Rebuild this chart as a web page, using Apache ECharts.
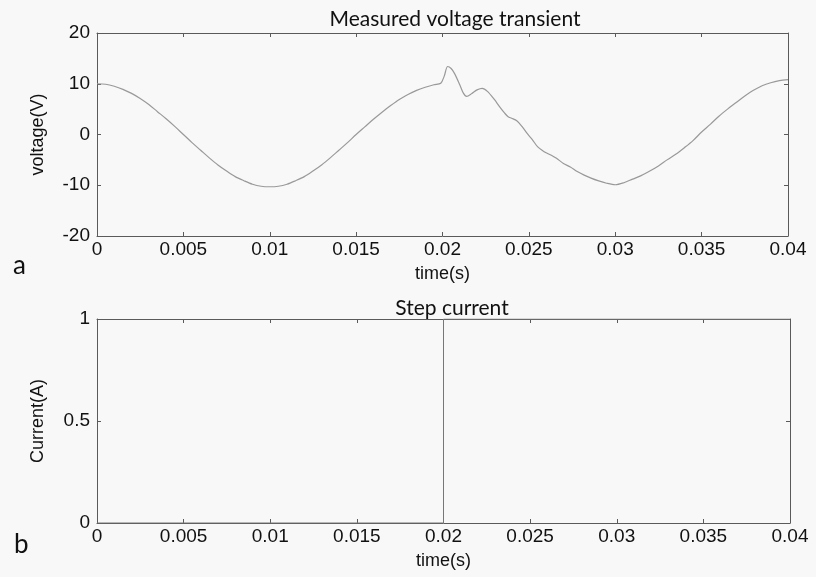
<!DOCTYPE html>
<html><head><meta charset="utf-8">
<script src="https://cdn.jsdelivr.net/npm/echarts@6/dist/echarts.min.js"></script>
<style>html,body{margin:0;padding:0;background:#f8f8f8}#c{width:816px;height:577px}</style>
</head><body><div id="c"></div>
<script>
var timeV = [0,0.0005,0.001,0.0015,0.002,0.0025,0.003,0.0035,0.004,0.0045,0.005,0.0055,0.006,0.0065,0.007,0.0075,0.008,0.0085,0.009,0.0095,0.01,0.0105,0.011,0.0115,0.012,0.0125,0.013,0.0135,0.014,0.0145,0.015,0.0155,0.016,0.0165,0.017,0.0175,0.018,0.0185,0.019,0.0195,0.0199,0.0201,0.0203,0.0205,0.0207,0.021,0.0212,0.0214,0.0217,0.022,0.0223,0.0226,0.023,0.0233,0.0236,0.0238,0.024,0.0243,0.0246,0.0249,0.0252,0.0255,0.0258,0.026,0.0263,0.0266,0.027,0.0274,0.0278,0.0282,0.0286,0.029,0.0295,0.03,0.0305,0.031,0.0315,0.032,0.0325,0.033,0.0335,0.034,0.0345,0.035,0.0355,0.036,0.0365,0.037,0.0375,0.038,0.0385,0.039,0.0395,0.04];
var voltage = [10.0,9.9,9.5,8.9,8.1,7.1,5.9,4.5,3.1,1.6,0.0,-1.6,-3.1,-4.6,-6.0,-7.2,-8.3,-9.1,-9.8,-10.2,-10.3,-10.2,-9.8,-9.1,-8.3,-7.2,-6.0,-4.6,-3.1,-1.6,0.0,1.5,3.0,4.4,5.7,6.9,7.9,8.7,9.3,9.8,10.1,11.5,13.4,13.0,12.0,9.8,8.2,7.5,8.1,8.8,9.1,8.5,6.9,5.5,4.2,3.5,3.2,2.7,1.6,0.2,-1.0,-2.4,-3.2,-3.6,-4.1,-4.7,-5.7,-6.4,-7.3,-8.0,-8.6,-9.1,-9.6,-9.9,-9.5,-8.8,-8.1,-7.2,-6.2,-5.0,-3.9,-2.6,-1.2,0.5,2.0,3.6,5.0,6.3,7.6,8.7,9.6,10.2,10.6,10.8];
var timeI = [0,0.02,0.02,0.04];
var current = [0,0,1,1];
var xTicks = [0,0.005,0.01,0.015,0.02,0.025,0.03,0.035,0.04];
var vTicks = [-20,-10,0,10,20];
var iTicks = [0,0.5,1];

var SANS = "'Liberation Sans', Arial, sans-serif";
var HUM = "Lato, 'Open Sans', sans-serif";
var tickFont = {fontFamily:SANS, fontSize:19, color:'#111'};
var lineCol = '#5a5a5a';
function pairs(a,b){return a.map(function(v,i){return [v,b[i]];});}
function fmtX(v){return String(Math.round(v*1000)/1000);}

function xAx(grid, pos, show){
  return {type:'value', gridIndex:grid, position:pos, min:0, max:0.04, interval:0.005,
    axisLine:{show:true,onZero:false,lineStyle:{color:lineCol,width:1}},
    axisTick:{show:true,inside:true,length:4,lineStyle:{color:lineCol}},
    axisLabel:{show:show,margin:4,formatter:fmtX,...tickFont},
    splitLine:{show:false},
    name: show?'time(s)':'', nameLocation:'middle', nameGap:29,
    nameTextStyle:{fontFamily:SANS,fontSize:18,color:'#111'}};
}
function yAx(grid, pos, show, mn, mx, iv, nm){
  return {type:'value', gridIndex:grid, position:pos, min:mn, max:mx, interval:iv,
    axisLine:{show:true,onZero:false,lineStyle:{color:lineCol,width:1}},
    axisTick:{show:true,inside:true,length:4,lineStyle:{color:lineCol}},
    axisLabel:{show:show,margin:7,...tickFont},
    splitLine:{show:false},
    name: show?nm:'', nameLocation:'middle', nameGap:50,
    nameTextStyle:{fontFamily:SANS,fontSize:18,color:'#111'}};
}

var chart = echarts.init(document.getElementById('c'), null, {renderer:'canvas'});
chart.setOption({
  backgroundColor:'#f8f8f8',
  animation:false,
  title:[
    {text:'Measured voltage transient', left:450, top:4, textAlign:'center',
      textStyle:{fontFamily:HUM,fontSize:21,fontWeight:'normal',color:'#111'}},
    {text:'Step current', left:447, top:293, textAlign:'center',
      textStyle:{fontFamily:HUM,fontSize:21,fontWeight:'normal',color:'#111'}},
    {text:'a', left:8, top:248, textStyle:{fontFamily:HUM,fontSize:26,fontWeight:'normal',color:'#111'}},
    {text:'b', left:9, top:527, textStyle:{fontFamily:HUM,fontSize:26,fontWeight:'normal',color:'#111'}}
  ],
  grid:[
    {left:97, top:33, width:691, height:203},
    {left:97, top:319, width:693, height:204}
  ],
  xAxis:[xAx(0,'bottom',true), xAx(0,'top',false), xAx(1,'bottom',true), xAx(1,'top',false)],
  yAxis:[yAx(0,'left',true,-20,20,10,'voltage(V)'), yAx(0,'right',false,-20,20,10,''),
         yAx(1,'left',true,0,1,0.5,'Current(A)'), yAx(1,'right',false,0,1,0.5,'')],
  series:[
    {type:'line', xAxisIndex:0, yAxisIndex:0, data:pairs(timeV,voltage), showSymbol:false, smooth:0.3,
      lineStyle:{color:'#999',width:1.2}},
    {type:'line', xAxisIndex:2, yAxisIndex:2, data:pairs(timeI,current), showSymbol:false,
      lineStyle:{color:'#777',width:1}}
  ]
});
</script></body></html>
